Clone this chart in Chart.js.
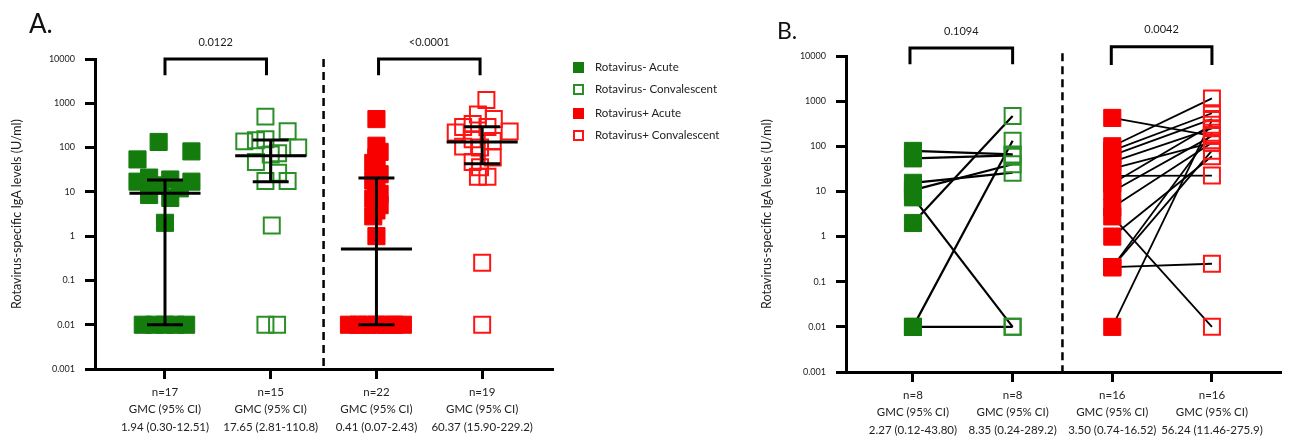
<!DOCTYPE html>
<html>
<head>
<meta charset="utf-8">
<script src="https://cdn.jsdelivr.net/npm/chart.js@4.4.0/dist/chart.umd.min.js"></script>
<style>
    body { margin: 0; background: #fff; font-family: Lato, sans-serif; }
    #wrap { position: relative; width: 1295px; height: 437px; overflow: hidden; }
    .panel { position: absolute; top: 0; }
    .letter { position: absolute; color: #111; line-height: 1; }
    .item { position: absolute; left: 595px; font-size: 11.5px; color: #222; line-height: 14px; white-space: nowrap; }
    .sw { position: absolute; left: 573px; width: 11px; height: 11px; box-sizing: border-box; }
</style>
</head>
<body>
<div id="wrap">
    <div class="panel" style="left:0;width:600px;height:437px"><canvas id="chartA" width="600" height="437"></canvas></div>
    <div class="panel" style="left:740px;width:555px;height:437px"><canvas id="chartB" width="555" height="437"></canvas></div>

    <div class="letter" style="left:29px;top:10px;font-size:26px">A.</div>
    <div class="letter" style="left:777px;top:19px;font-size:23px">B.</div>

    <div class="sw" style="top:62px;background:#137c0d"></div>
    <div class="item" style="top:60px">Rotavirus- Acute</div>
    <div class="sw" style="top:84px;border:2px solid #2b8f28"></div>
    <div class="item" style="top:82px">Rotavirus- Convalescent</div>
    <div class="sw" style="top:108px;background:#f80000"></div>
    <div class="item" style="top:106px">Rotavirus+ Acute</div>
    <div class="sw" style="top:130px;border:2px solid #ff1414"></div>
    <div class="item" style="top:128px">Rotavirus+ Convalescent</div>
</div>

<script>
// axis ticks
const yTicks = [0.001, 0.01, 0.1, 1, 10, 100, 1000, 10000];
const yTickLabels = ['0.001', '0.01', '0.1', '1', '10', '100', '1000', '10000'];
const xCats = [1, 2, 3, 4];

const xLabelsA = [
    ['n=17', 'GMC (95% CI)', '1.94 (0.30-12.51)'],
    ['n=15', 'GMC (95% CI)', '17.65 (2.81-110.8)'],
    ['n=22', 'GMC (95% CI)', '0.41 (0.07-2.43)'],
    ['n=19', 'GMC (95% CI)', '60.37 (15.90-229.2)']
];
const xLabelsB = [
    ['n=8', 'GMC (95% CI)', '2.27 (0.12-43.80)'],
    ['n=8', 'GMC (95% CI)', '8.35 (0.24-289.2)'],
    ['n=16', 'GMC (95% CI)', '3.50 (0.74-16.52)'],
    ['n=16', 'GMC (95% CI)', '56.24 (11.46-275.9)']
];

// panel A - individual values (U/ml) and their horizontal scatter
const negAcuteA = [134, 82, 54, 17, 21, 19, 17, 8.5, 7.3, 14, 12, 2.0, 0.01, 0.01, 0.01, 0.01, 0.01];
const negAcuteJitA = [-0.06, 0.25, -0.26, -0.26, -0.15, 0.05, 0.25, -0.15, 0.05, -0.05, 0.14, 0, -0.21, -0.1, 0, 0.1, 0.2];
const negConvA = [500, 234, 138, 146, 154, 100, 74, 47, 27, 17.6, 17.6, 1.74, 0.01, 0.01, 70];
const negConvJitA = [-0.05, 0.16, -0.25, -0.14, -0.05, 0.26, 0.07, -0.14, 0.07, -0.05, 0.16, 0.01, -0.05, 0.06, 0];
const posAcuteA = [440, 110, 80, 60, 45, 33, 25, 18, 13, 9, 7, 5, 3.8, 2.8, 1.0, 0.01, 0.01, 0.01, 0.01, 0.01, 0.01, 0.01];
const posAcuteJitA = [0, 0, 0.03, 0, -0.03, 0, 0.03, -0.03, 0, 0.03, -0.03, 0.03, 0, -0.03, 0, -0.26, -0.17, -0.09, 0, 0.09, 0.17, 0.25];
const posConvA = [1180, 560, 440, 290, 340, 220, 230, 290, 155, 140, 100, 105, 47, 60, 36, 22, 22, 0.25, 0.01];
const posConvJitA = [0.04, -0.04, 0.11, -0.18, -0.09, -0.25, 0.26, 0.05, -0.09, 0.1, -0.02, -0.18, -0.09, 0.1, -0.02, -0.04, 0.05, 0, 0];

// panel A - centre line and error bar ends
const centreA = [9.3, 65, 0.51, 134];
const lowA = [0.01, 17, 0.01, 43];
const highA = [18.6, 148, 20.5, 295];

// panel B - paired acute / convalescent values
const negAcuteB = [79, 54, 15.5, 10.7, 7.4, 2.0, 0.01, 0.01];
const negConvB = [66, 63, 26, 40, 0.01, 470, 133, 0.01];
const posAcuteB = [425, 100, 80, 63, 45, 32, 22, 15, 10, 4.4, 2.8, 1.0, 0.21, 0.21, 0.21, 0.01];
const posConvB = [170, 1150, 540, 400, 250, 120, 22.5, 300, 170, 120, 0.01, 60, 0.25, 80, 200, 380];

const pValuesA = ['0.0122', '<0.0001'];
const pValuesB = ['0.1094', '0.0042'];

const GREEN = '#137c0d';
const GREEN_OPEN = '#2b8f28';
const RED = '#f80000';
const RED_OPEN = '#ff1414';

function squares(values, jitter, centre, color, filled) {
    return {
        data: values.map((v, i) => ({ x: centre + (jitter ? jitter[i] : 0), y: v })),
        showLine: false,
        pointStyle: 'rect',
        pointRadius: filled ? 12.1 : 11.3,
        backgroundColor: filled ? color : 'rgba(0,0,0,0)',
        borderColor: color,
        borderWidth: filled ? 1 : 2
    };
}

function seg(points, width, dash) {
    return {
        data: points.map(p => ({ x: p[0], y: p[1] })),
        showLine: true,
        pointRadius: 0,
        borderColor: '#000',
        borderWidth: width,
        borderDash: dash || [],
        borderCapStyle: 'butt',
        borderJoinStyle: 'miter',
        clip: false
    };
}

function bracket(x1, x2, top, leg) {
    return seg([[x1, leg], [x1, top], [x2, top], [x2, leg]], 3);
}

// p-values above the brackets
const pvalPlugin = {
    id: 'pvals',
    afterDatasetsDraw(chart, args, opts) {
        const { ctx, scales: { x, y } } = chart;
        ctx.save();
        ctx.font = '11px Lato';
        ctx.fillStyle = '#222';
        ctx.textAlign = 'center';
        ctx.textBaseline = 'middle';
        opts.items.forEach(it => {
            ctx.fillText(it.text, x.getPixelForValue((it.x1 + it.x2) / 2), y.getPixelForValue(it.y) - 17);
        });
        ctx.restore();
    }
};

function buildScales(xMin, xMax, yWidth, xHeight, titlePad, labels) {
    return {
        x: {
            type: 'linear',
            min: xMin,
            max: xMax,
            afterFit: s => { s.height = xHeight; },
            afterBuildTicks: s => { s.ticks = xCats.map(v => ({ value: v })); },
            ticks: {
                callback: (v, i) => labels[i],
                color: '#222',
                font: { family: 'Lato', size: 11.5, lineHeight: 1.55 },
                padding: 4,
                maxRotation: 0,
                autoSkip: false
            },
            grid: { drawOnChartArea: false, drawTicks: true, tickLength: 10, tickWidth: 3, tickColor: '#000' },
            border: { display: true, width: 3, color: '#000' }
        },
        y: {
            type: 'logarithmic',
            min: 0.001,
            max: 10000,
            afterFit: s => { s.width = yWidth; },
            afterBuildTicks: s => { s.ticks = yTicks.map(v => ({ value: v })); },
            ticks: {
                callback: v => yTickLabels[yTicks.indexOf(v)],
                color: '#222',
                font: { family: 'Lato', size: 9 },
                padding: 10,
                autoSkip: false
            },
            grid: { drawOnChartArea: false, drawTicks: true, tickLength: 10, tickWidth: 3, tickColor: '#000' },
            border: { display: true, width: 3, color: '#000' },
            title: {
                display: true,
                text: 'Rotavirus-specific IgA levels (U/ml)',
                color: '#222',
                font: { family: 'Lato', size: 12.5 },
                padding: { top: titlePad, bottom: 0 }
            }
        }
    };
}

// ---------- panel A ----------
const dsA = [];
const BAR = 0.336, CAP = 0.17;
xCats.forEach((c, i) => {
    dsA.push(seg([[c - BAR, centreA[i]], [c + BAR, centreA[i]]], 3));
    dsA.push(seg([[c, lowA[i]], [c, highA[i]]], 3));
    dsA.push(seg([[c - CAP, lowA[i]], [c + CAP, lowA[i]]], 3));
    dsA.push(seg([[c - CAP, highA[i]], [c + CAP, highA[i]]], 3));
});
dsA.push(squares(negAcuteA, negAcuteJitA, 1, GREEN, true));
dsA.push(squares(negConvA, negConvJitA, 2, GREEN_OPEN, false));
dsA.push(squares(posAcuteA, posAcuteJitA, 3, RED, true));
dsA.push(squares(posConvA, posConvJitA, 4, RED_OPEN, false));
dsA.push(bracket(1, 1.96, 10000, 4300));
dsA.push(bracket(3.02, 3.98, 10000, 4300));
dsA.push(seg([[2.5, 10000], [2.5, 0.001]], 2.5, [8, 5]));

new Chart(document.getElementById('chartA'), {
    type: 'scatter',
    data: { datasets: dsA },
    options: {
        responsive: false,
        animation: false,
        events: [],
        layout: { padding: { top: 59, right: 47, left: 0, bottom: 0 } },
        scales: buildScales(0.338, 4.67, 95, 68, 9, xLabelsA),
        plugins: {
            legend: { display: false },
            tooltip: { enabled: false },
            pvals: { items: [
                { x1: 1, x2: 1.96, y: 10000, text: pValuesA[0] },
                { x1: 3.02, x2: 3.98, y: 10000, text: pValuesA[1] }
            ] }
        }
    },
    plugins: [pvalPlugin]
});

// ---------- panel B ----------
const dsB = [];
dsB.push(squares(negAcuteB, null, 1, GREEN, true));
dsB.push(squares(posAcuteB, null, 3, RED, true));
dsB.push(squares(negConvB, null, 2, GREEN_OPEN, false));
dsB.push(squares(posConvB, null, 4, RED_OPEN, false));
negAcuteB.forEach((v, i) => dsB.push(seg([[1, v], [2, negConvB[i]]], 2.2)));
posAcuteB.forEach((v, i) => dsB.push(seg([[3, v], [4, posConvB[i]]], 1.8)));
dsB.push(bracket(0.97, 2.0, 15000, 6600));
dsB.push(bracket(2.99, 4.0, 16000, 6300));
dsB.push(seg([[2.5, 11500], [2.5, 0.001]], 2.5, [8, 5]));

new Chart(document.getElementById('chartB'), {
    type: 'scatter',
    data: { datasets: dsB },
    options: {
        responsive: false,
        animation: false,
        events: [],
        layout: { padding: { top: 56, right: 0, left: 0, bottom: 0 } },
        scales: buildScales(0.328, 4.7, 106, 65, 19, xLabelsB),
        plugins: {
            legend: { display: false },
            tooltip: { enabled: false },
            pvals: { items: [
                { x1: 0.97, x2: 2.0, y: 15000, text: pValuesB[0] },
                { x1: 2.99, x2: 4.0, y: 16000, text: pValuesB[1] }
            ] }
        }
    },
    plugins: [pvalPlugin]
});
</script>
</body>
</html>
